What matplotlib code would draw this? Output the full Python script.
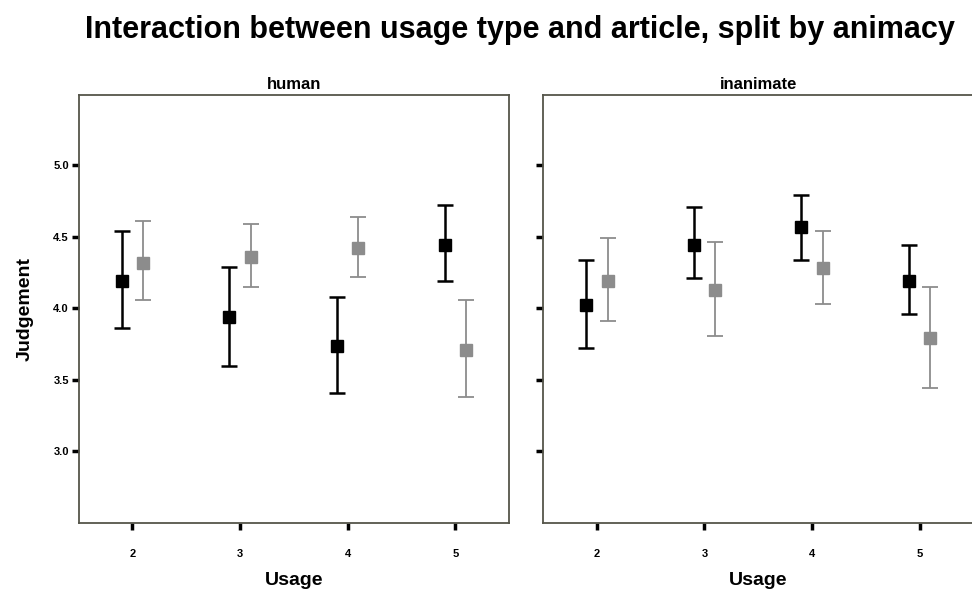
import numpy as np
import matplotlib.pyplot as plt

# usage levels on the x axis
usage = [2, 3, 4, 5]
panels = ['human', 'inanimate']

# mean judgement and 95% CI bounds
# series A = black, series B = grey
human_a = [4.19, 3.94, 3.74, 4.44]
human_a_lo = [3.86, 3.60, 3.41, 4.19]
human_a_hi = [4.54, 4.29, 4.08, 4.72]
human_b = [4.32, 4.36, 4.42, 3.71]
human_b_lo = [4.06, 4.15, 4.22, 3.38]
human_b_hi = [4.61, 4.59, 4.64, 4.06]

inan_a = [4.02, 4.44, 4.57, 4.19]
inan_a_lo = [3.72, 4.21, 4.34, 3.96]
inan_a_hi = [4.34, 4.71, 4.79, 4.44]
inan_b = [4.19, 4.13, 4.28, 3.79]
inan_b_lo = [3.91, 3.81, 4.03, 3.44]
inan_b_hi = [4.49, 4.46, 4.54, 4.15]

yticks = [3.0, 3.5, 4.0, 4.5, 5.0]
ytick_labels = ['3.0', '3.5', '4.0', '4.5', '5.0']

BLACK = '#000000'
GREY = '#8c8c8c'
FRAME = '#55554a'

fig = plt.figure(figsize=(9.72, 5.94), dpi=100)
plt.rcParams['font.family'] = ['Liberation Sans', 'DejaVu Sans']

ax_pos = [[0.0808, 0.1195, 0.443, 0.7205],
          [0.5586, 0.1195, 0.443, 0.7205]]

data = [
    (human_a, human_a_lo, human_a_hi, human_b, human_b_lo, human_b_hi),
    (inan_a, inan_a_lo, inan_a_hi, inan_b, inan_b_lo, inan_b_hi),
]


def draw_series(ax, x, mean, lo, hi, color, lw):
    mean = np.array(mean)
    err = [mean - np.array(lo), np.array(hi) - mean]
    ax.errorbar(x, mean, yerr=err, fmt='s', color=color, ecolor=color,
                elinewidth=lw, capsize=6, capthick=lw, markersize=8,
                markeredgecolor=color, markerfacecolor=color)


for i, name in enumerate(panels):
    ax = fig.add_axes(ax_pos[i])
    a, a_lo, a_hi, b, b_lo, b_hi = data[i]
    x = np.array(usage, dtype=float)
    draw_series(ax, x - 0.1, a, a_lo, a_hi, BLACK, 1.8)
    draw_series(ax, x + 0.1, b, b_lo, b_hi, GREY, 1.3)

    ax.set_xlim(1.5, 5.5)
    ax.set_ylim(2.5, 5.49)
    ax.set_xticks(usage)
    ax.set_xticklabels([str(u) for u in usage], fontsize=8, fontweight='bold')
    ax.set_yticks(yticks)
    if i == 0:
        ax.set_yticklabels(ytick_labels, fontsize=8, fontweight='bold')
        ax.set_ylabel('Judgement', fontsize=14, fontweight='bold', labelpad=14)
    else:
        ax.set_yticklabels([])
    ax.tick_params(axis='both', direction='out', length=5, width=2.5,
                   color='black', pad=2)
    ax.tick_params(axis='x', pad=14)
    ax.set_title(name, fontsize=12, fontweight='bold', pad=4)
    ax.set_xlabel('Usage', fontsize=14, fontweight='bold', labelpad=9)
    for side in ['left', 'top', 'right', 'bottom']:
        ax.spines[side].set_color(FRAME)
        ax.spines[side].set_linewidth(1.3)

fig.suptitle('Interaction between usage type and article, split by animacy',
             fontsize=22, fontweight='bold', x=0.535, y=0.975)

fig.savefig('out.png', dpi=100)
